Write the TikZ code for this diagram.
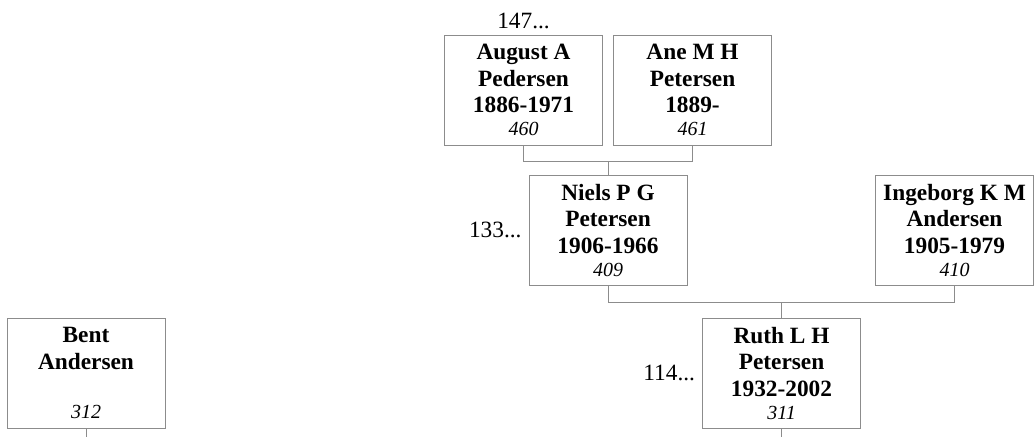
\documentclass[tikz,border=0pt]{standalone}
\usepackage{fontspec}
\setmainfont{Liberation Serif}
\usetikzlibrary{positioning,calc}
\definecolor{linegray}{HTML}{8C8C8C}
\newcommand{\personid}[1]{{\fontsize{15}{17}\selectfont\mdseries\itshape #1}}

\begin{document}
\begin{tikzpicture}[
    x=0.75pt, y=-0.75pt,
    person/.style={draw=linegray, line width=0.75pt, minimum width=118.5pt,
      minimum height=82.5pt, inner sep=2pt, align=center,
      font=\fontsize{17.5}{20}\selectfont\bfseries},
    link/.style={draw=linegray, line width=0.75pt},
    more/.style={inner sep=0pt, font=\fontsize{17.5}{20}\selectfont},
]
\useasboundingbox (0,0) rectangle (1034,436);

% Generation 1
\node[person] (aug) at (523.5,90) {August A\\Pedersen\\1886-1971\\[-3pt]\personid{460}};
\node[person] (ane) at (692.5,90) {Ane M H\\Petersen\\1889-\\[-3pt]\personid{461}};
\node[more, above=3.75pt of aug] (augmore) {147...};

% Generation 2
\node[person] (niels) at (608,230) {Niels P G\\Petersen\\1906-1966\\[-3pt]\personid{409}};
\node[person] (inge) at (954.5,230) {Ingeborg K M\\Andersen\\1905-1979\\[-3pt]\personid{410}};
\node[more, left=5pt of niels] (nielsmore) {133...};

% Generation 3
\node[person] (bent) at (86,373) {Bent\\Andersen\\\mbox{}\\[-3pt]\personid{312}};
\node[person] (ruth) at (781.5,373) {Ruth L H\\Petersen\\1932-2002\\[-3pt]\personid{311}};
\node[more, left=5pt of ruth] (ruthmore) {114...};

% Links
\draw[link] (aug.south) -- ++(0,16) coordinate (j1) -| (ane.south);
\draw[link] (niels.north) -- (niels.north |- j1);
\draw[link] (niels.south) -- ++(0,17) coordinate (j2) -| (inge.south);
\draw[link] (ruth.north) -- (ruth.north |- j2);
\draw[link] (ruth.south) -- ++(0,8);
\draw[link] (bent.south) -- ++(0,8);
\end{tikzpicture}
\end{document}
